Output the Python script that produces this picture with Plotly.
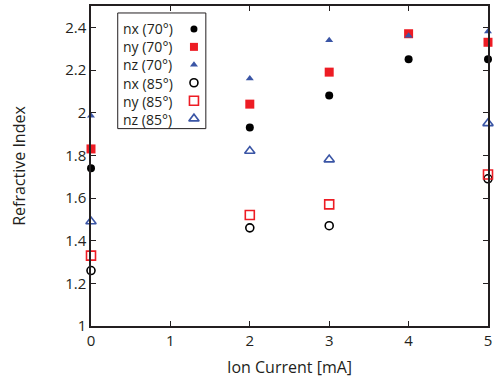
import plotly.graph_objects as go

current = [0, 2, 3, 4, 5]
nx70 = [1.74, 1.93, 2.08, 2.25, 2.25]
ny70 = [1.83, 2.04, 2.19, 2.37, 2.33]
nz70 = [1.985, 2.16, 2.34, 2.36, 2.38]
current85 = [0, 2, 3, 5]
nx85 = [1.26, 1.46, 1.47, 1.69]
ny85 = [1.33, 1.52, 1.57, 1.71]
nz85 = [1.49, 1.82, 1.78, 1.95]

labels = ["nx (70°)", "ny (70°)", "nz (70°)", "nx (85°)", "ny (85°)", "nz (85°)"]
RED = "#ed1c24"
BLUE = "#3a55a5"
BLACK = "#000000"
TXT = "#231f20"

fig = go.Figure()
specs = [
    (current, nx70, "circle", BLACK, 8),
    (current, ny70, "square", RED, 9),
    (current, nz70, "triangle-up", BLUE, 7),
    (current85, nx85, "circle-open", BLACK, 8),
    (current85, ny85, "square-open", RED, 9),
    (current85, nz85, "triangle-up-open", BLUE, 9),
]
for (xs, ys, sym, col, sz), name in zip(specs, labels):
    fig.add_trace(go.Scatter(
        x=xs, y=ys, mode="markers", name=name, showlegend=False,
        cliponaxis=False,
        marker=dict(symbol=sym, color=col, size=sz,
                    line=dict(color=col, width=1.6 if "open" in sym else 0)),
    ))

# custom legend (text left, symbol right), pixel positions converted to paper
L, R, T, B = 91, 492, 5, 326
def px(xp):
    return (xp - L) / (R - L)
def py(yp):
    return (B - yp) / (B - T)

fig.add_shape(type="rect", xref="paper", yref="paper",
              x0=px(118), x1=px(207), y0=py(128), y1=py(12),
              line=dict(color=TXT, width=1), fillcolor="white", layer="below")
rows_px = [28, 46, 64, 82, 100, 118]
fig.add_annotation(xref="paper", yref="paper", x=px(121), y=py(73), text="<br>".join(labels),
                   showarrow=False, xanchor="left", yanchor="middle", align="left",
                   font=dict(size=14, color=TXT))
# legend symbols on an overlay axis spanning the plot area in paper units
lsizes = [7, 8, 7, 8, 9, 9]
for (xs, ys, sym, col, sz), ypx, ls in zip(specs, rows_px, lsizes):
    fig.add_trace(go.Scatter(
        x=[px(195)], y=[py(ypx)], xaxis="x2", yaxis="y2", mode="markers",
        showlegend=False, hoverinfo="skip", cliponaxis=False,
        marker=dict(symbol=sym, color=col, size=ls,
                    line=dict(color=col, width=1.6 if "open" in sym else 0)),
    ))

axis_common = dict(showgrid=False, zeroline=False, showline=True, linecolor=TXT,
                   linewidth=1.5, ticks="inside", ticklen=5, tickcolor=TXT,
                   mirror="ticks", tickfont=dict(size=15, color=TXT))
fig.update_xaxes(range=[0, 5], tickvals=[0, 1, 2, 3, 4, 5],
                 title=dict(text="Ion Current [mA]", font=dict(size=16, color=TXT), standoff=13),
                 **axis_common)
fig.update_yaxes(range=[1, 2.5], tickvals=[1, 1.2, 1.4, 1.6, 1.8, 2, 2.2, 2.4],
                 ticktext=["1", "1.2", "1.4", "1.6", "1.8", "2", "2.2", "2.4"],
                 title=dict(text="Refractive Index", font=dict(size=16, color=TXT), standoff=36),
                 **axis_common)
fig.update_layout(
    width=496, height=385, margin=dict(l=91, r=4, t=5, b=59),
    plot_bgcolor="white", paper_bgcolor="white",
    font=dict(family="Open Sans, Noto Sans, sans-serif"),
    xaxis2=dict(overlaying="x", range=[0, 1], visible=False, fixedrange=True),
    yaxis2=dict(overlaying="y", range=[0, 1], visible=False, fixedrange=True),
)
fig.write_html("out.html")
